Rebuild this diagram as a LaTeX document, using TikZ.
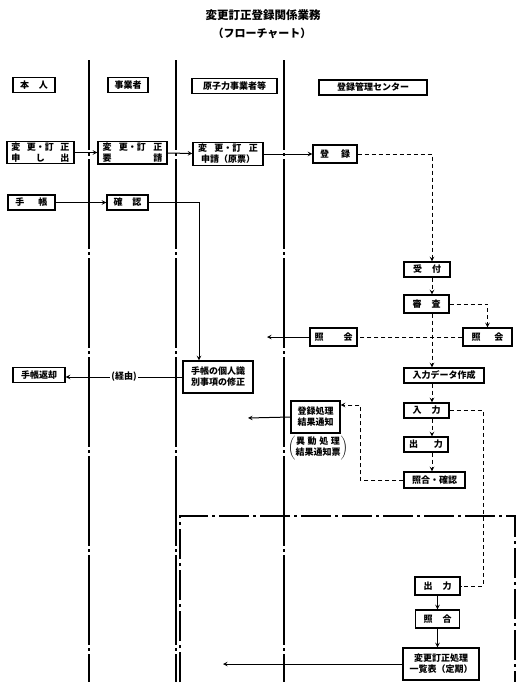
\documentclass[tikz,border=0pt]{standalone}
\usepackage{fontspec}
\setmainfont{Noto Sans CJK JP}
\usetikzlibrary{calc}
\newcommand{\spr}[2]{\makebox[#1][s]{#2}}

\begin{document}
\begin{tikzpicture}[x=1pt, y=-1pt, >=stealth,
    box/.style={draw, line width=1.4pt, inner sep=1.5pt, align=center, fill=white,
        font=\fontsize{9}{11}\selectfont\bfseries},
    headbox/.style={box, line width=1.6pt, minimum height=15},
    lane/.style={line width=1.3pt, dash pattern=on 90pt off 3pt on 3pt off 3pt},
    frame/.style={line width=1.1pt, dash pattern=on 30pt off 4pt on 3pt off 4pt},
    flow/.style={line width=1pt, ->},
    dline/.style={line width=1pt, dash pattern=on 4pt off 3pt},
    dflow/.style={dline, ->}]
    \useasboundingbox (0,0) rectangle (526,694);

    \node[font=\fontsize{11.5}{13}\selectfont\bfseries] (title) at (263,15) {変更訂正登録関係業務};
    \node[font=\fontsize{11}{13}\selectfont\bfseries] (subtitle) at (262,33) {（フローチャート）};

    \foreach \x in {89,176,284}
        \draw[lane] (\x,60) -- (\x,682);
    \draw[frame] (180,682) -- (180,516) -- (515,516) -- (515,682);

    \node[headbox, minimum width=42] (hHonnin) at (34,85) {\spr{28pt}{本 人}};
    \node[headbox, minimum width=40] (hJigyo) at (128,85) {事業者};
    \node[headbox, minimum width=85] (hGenshi) at (234.5,86) {原子力事業者等};
    \node[headbox, minimum width=108] (hCenter) at (373,87.5) {登録管理センター};

    \node[box, minimum width=67, minimum height=21] (moshide) at (40.5,152.5)
        {\spr{58pt}{変 更・訂 正}\\\spr{58pt}{申 し 出}};
    \node[box, minimum width=69, minimum height=21] (yousei) at (132.5,152.5)
        {\spr{60pt}{変 更・訂 正}\\\spr{60pt}{要 請}};
    \node[box, minimum width=70, minimum height=23] (shinsei) at (228,154)
        {\spr{60pt}{変 更・訂 正}\\申請（原票）};
    \node[box, minimum width=44, minimum height=18] (touroku) at (335,154) {\spr{30pt}{登 録}};

    \node[box, minimum width=47, minimum height=15] (techo) at (31.5,202.5) {\spr{32pt}{手 帳}};
    \node[box, minimum width=41, minimum height=15] (kakunin) at (127.5,202.5) {\spr{28pt}{確 認}};
    \node[box, minimum width=70, minimum height=32] (shusei) at (218,377) {手帳の個人識\\別事項の修正};
    \node[box, minimum width=52, minimum height=15] (henkyaku) at (39,375) {手帳返却};

    \node[box, minimum width=46, minimum height=15] (uketsuke) at (427,269.5) {\spr{28pt}{受 付}};
    \node[box, minimum width=45, minimum height=18] (shinsa) at (426.5,304) {\spr{28pt}{審 査}};
    \node[box, minimum width=49, minimum height=18] (shokaiR) at (487.5,337) {\spr{32pt}{照 会}};
    \node[box, minimum width=47, minimum height=18] (shokaiL) at (333.5,337) {\spr{38pt}{照 会}};
    \node[box, minimum width=80, minimum height=15] (nyuryokuData) at (444,375.5) {入力データ作成};
    \node[box, minimum width=45, minimum height=15] (nyuryoku) at (426.5,410.5) {\spr{28pt}{入 力}};
    \node[box, minimum width=44, minimum height=15] (shutsuryoku) at (426,444.5) {\spr{34pt}{出 力}};
    \node[box, minimum width=61, minimum height=16] (kakunin2) at (434.5,480) {照合・確認};

    \node[box, minimum width=49, minimum height=32] (tsuchi) at (315.5,417) {登録処理\\結果通知};
    \node[font=\fontsize{9}{10}\selectfont\bfseries] (tsuchiNote) at (318,448)
        {$\left(\begin{tabular}{@{}c@{}}\spr{44pt}{異 動 処 理}\\結果通知票\end{tabular}\right)$};

    \node[box, minimum width=45, minimum height=18] (shutsuryoku2) at (437.5,586) {\spr{28pt}{出 力}};
    \node[box, minimum width=44, minimum height=18] (shogo) at (437.5,619) {\spr{28pt}{照 合}};
    \node[box, minimum width=76, minimum height=32] (ichiran) at (441,664) {変更訂正処理\\一覧表（定期）};

    \coordinate (spine) at (432,0);
    \coordinate (kx) at (199,0);
    \coordinate (side) at (483,0);
    \coordinate (retTop) at (360,405);
    \coordinate (outL) at (267,337);
    \coordinate (outT) at (248,418);
    \coordinate (outI) at (223,664);

    \draw[flow] (moshide) -- (yousei);
    \draw[flow] (yousei) -- (shinsei);
    \draw[flow] (shinsei.east) -- (touroku.west);
    \draw[dflow] (touroku.east) -| (uketsuke.north -| spine);
    \draw[flow] (techo) -- (kakunin);
    \draw[flow] (kakunin.east) -| (shusei.north -| kx);
    \draw[flow] (shusei.west) -- node[fill=white, inner sep=1pt, font=\fontsize{9}{10}\selectfont\bfseries] (keiyu) {(経由)} (henkyaku.east |- shusei.west);

    \draw[dflow] (uketsuke.south -| spine) -- (shinsa.north -| spine);
    \draw[dflow] (shinsa.east) -| (shokaiR.north);
    \draw[dline] (shokaiR.west) -- (shokaiL.east);
    \draw[flow] (shokaiL.west) -- (outL);
    \draw[dflow] (shinsa.south -| spine) -- (nyuryokuData.north -| spine);
    \draw[dflow] (nyuryokuData.south -| spine) -- (nyuryoku.north -| spine);
    \draw[dflow] (nyuryoku.south -| spine) -- (shutsuryoku.north -| spine);
    \draw[dflow] (shutsuryoku.south -| spine) -- (kakunin2.north -| spine);
    \draw[dflow] (kakunin2.west) -| (retTop) -- (tsuchi.east |- retTop);
    \draw[flow] (tsuchi.west) -- (outT);
    \draw[dline] (nyuryoku.east) -| (side |- shutsuryoku2.east) -- (shutsuryoku2.east);
    \draw[flow] (shutsuryoku2) -- (shogo);
    \draw[flow] (shogo.south) -- (ichiran.north -| shogo.south);
    \draw[flow] (ichiran.west) -- (outI);
\end{tikzpicture}
\end{document}
